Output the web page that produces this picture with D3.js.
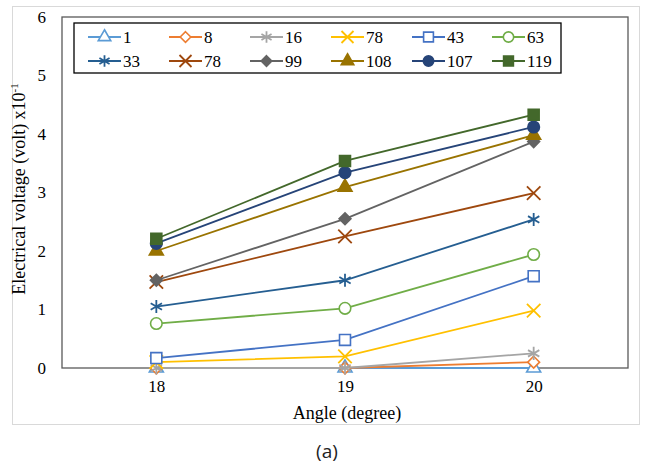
<!DOCTYPE html>
<html><head><meta charset="utf-8">
<script src="https://cdn.jsdelivr.net/npm/d3@7"></script>
<style>body{margin:0;background:#fff}</style>
</head><body>
<svg id="c" width="645" height="463"></svg>
<script>
const categories = ["18", "19", "20"];
const yTicks = [0, 1, 2, 3, 4, 5, 6];
const seriesNames = ["1", "8", "16", "78", "43", "63", "33", "78", "99", "108", "107", "119"];
const s1   = [0, 0, 0];
const s8   = [0, 0, 0.1];
const s16  = [0, 0, 0.25];
const s78a = [0.1, 0.2, 0.98];
const s43  = [0.17, 0.48, 1.57];
const s63  = [0.76, 1.02, 1.94];
const s33  = [1.05, 1.5, 2.54];
const s78b = [1.47, 2.25, 2.99];
const s99  = [1.5, 2.55, 3.87];
const s108 = [2.0, 3.09, 3.98];
const s107 = [2.13, 3.34, 4.12];
const s119 = [2.21, 3.54, 4.33];
const seriesValues = [s1, s8, s16, s78a, s43, s63, s33, s78b, s99, s108, s107, s119];
const colors = ["#5B9BD5","#ED7D31","#A5A5A5","#FFC000","#4472C4","#70AD47","#255E91","#9E480E","#636363","#997300","#264478","#43682B"];
const shapes = ["triangle","diamond","asterisk","x","square","circle","asterisk","x","diamond","triangle","circle","square"];
const filled = [false,false,false,false,false,false,false,false,true,true,true,true];

const svg = d3.select("#c");
const font = "'Liberation Serif', 'Times New Roman', serif";
// outer border
svg.append("rect").attr("x",12.5).attr("y",6.5).attr("width",627).attr("height",418)
  .attr("fill","#fff").attr("stroke","#d9d9d9").attr("stroke-width",1);

const L=62, R=628, T=17, B=368;
const x = d3.scalePoint().domain(categories).range([L,R]).padding(0.5);
const y = d3.scaleLinear().domain([0,6]).range([B,T]);

// plot frame
svg.append("rect").attr("x",L).attr("y",T).attr("width",R-L).attr("height",B-T)
  .attr("fill","none").attr("stroke","#595959").attr("stroke-width",1.3);

// axes
const yAxis = d3.axisLeft(y).tickValues(yTicks).tickSize(0).tickPadding(16).tickFormat(d3.format("d"));
const gy = svg.append("g").attr("transform",`translate(${L},0)`).call(yAxis);
gy.select(".domain").remove();
gy.selectAll("text").attr("font-family",font).attr("font-size",17).attr("fill","#000");
const xAxis = d3.axisBottom(x).tickSize(0).tickPadding(12);
const gx = svg.append("g").attr("transform",`translate(0,${B})`).call(xAxis);
gx.select(".domain").remove();
gx.selectAll("text").attr("font-family",font).attr("font-size",17).attr("fill","#000");

// titles
svg.append("text").attr("x",347).attr("y",419).attr("text-anchor","middle")
  .attr("font-family",font).attr("font-size",18).text("Angle (degree)");
const yt = svg.append("text").attr("transform","translate(25,189) rotate(-90)").attr("text-anchor","middle")
  .attr("font-family",font).attr("font-size",18);
yt.append("tspan").text("Electrical voltage (volt) x10");
yt.append("tspan").attr("dy",-7).attr("font-size",11).text("-1");

svg.append("text").attr("x",327).attr("y",458).attr("text-anchor","middle")
  .attr("font-family","'Open Sans', sans-serif").attr("font-size",19).attr("fill","#222").text("(a)");

const symbolRhomb = {draw(ctx,size){const r=Math.sqrt(size/2);ctx.moveTo(0,-r);ctx.lineTo(r,0);ctx.lineTo(0,r);ctx.lineTo(-r,0);ctx.closePath();}};
function symPath(shape, scale){
  const m = {triangle:[d3.symbolTriangle,85], diamond:[symbolRhomb,70], square:[d3.symbolSquare,120],
    circle:[d3.symbolCircle,105], x:[d3.symbolTimes,120], asterisk:[d3.symbolAsterisk,120]};
  const [t,s] = m[shape];
  return d3.symbol().type(t).size(s*scale)();
}
function drawMarker(g, i, cx, cy, scale){
  const sh = shapes[i], open = !["x","asterisk"].includes(sh);
  g.append("path").attr("d",symPath(sh, scale)).attr("transform",`translate(${cx},${cy})`)
    .attr("fill", open ? (filled[i]? colors[i] : "#fff") : "none")
    .attr("stroke",colors[i]).attr("stroke-width", open?1.6:1.8);
}

const line = d3.line().x((d,j)=>x(categories[j])).y(d=>y(d));
const plot = svg.append("g");
seriesValues.forEach((vals,i)=>{
  const g = plot.append("g");
  g.append("path").attr("d",line(vals)).attr("fill","none").attr("stroke",colors[i]).attr("stroke-width",1.8);
  vals.forEach((v,j)=>drawMarker(g,i,x(categories[j]),y(v),1));
});

// legend
const lg = svg.append("g");
lg.append("rect").attr("x",74).attr("y",23).attr("width",487).attr("height",50)
  .attr("fill","#fff").attr("stroke","#000").attr("stroke-width",1.3);
const colX = [88,169,250,331,412,492], rowY=[37,61];
seriesNames.forEach((n,i)=>{
  const cx = colX[i%6], cy = rowY[Math.floor(i/6)];
  const g = lg.append("g");
  g.append("line").attr("x1",cx).attr("x2",cx+33).attr("y1",cy).attr("y2",cy).attr("stroke",colors[i]).attr("stroke-width",1.8);
  drawMarker(g,i,cx+16.5,cy,0.8);
  g.append("text").attr("x",cx+35).attr("y",cy+6).attr("font-family",font).attr("font-size",17).text(n);
});
</script>
</body></html>
